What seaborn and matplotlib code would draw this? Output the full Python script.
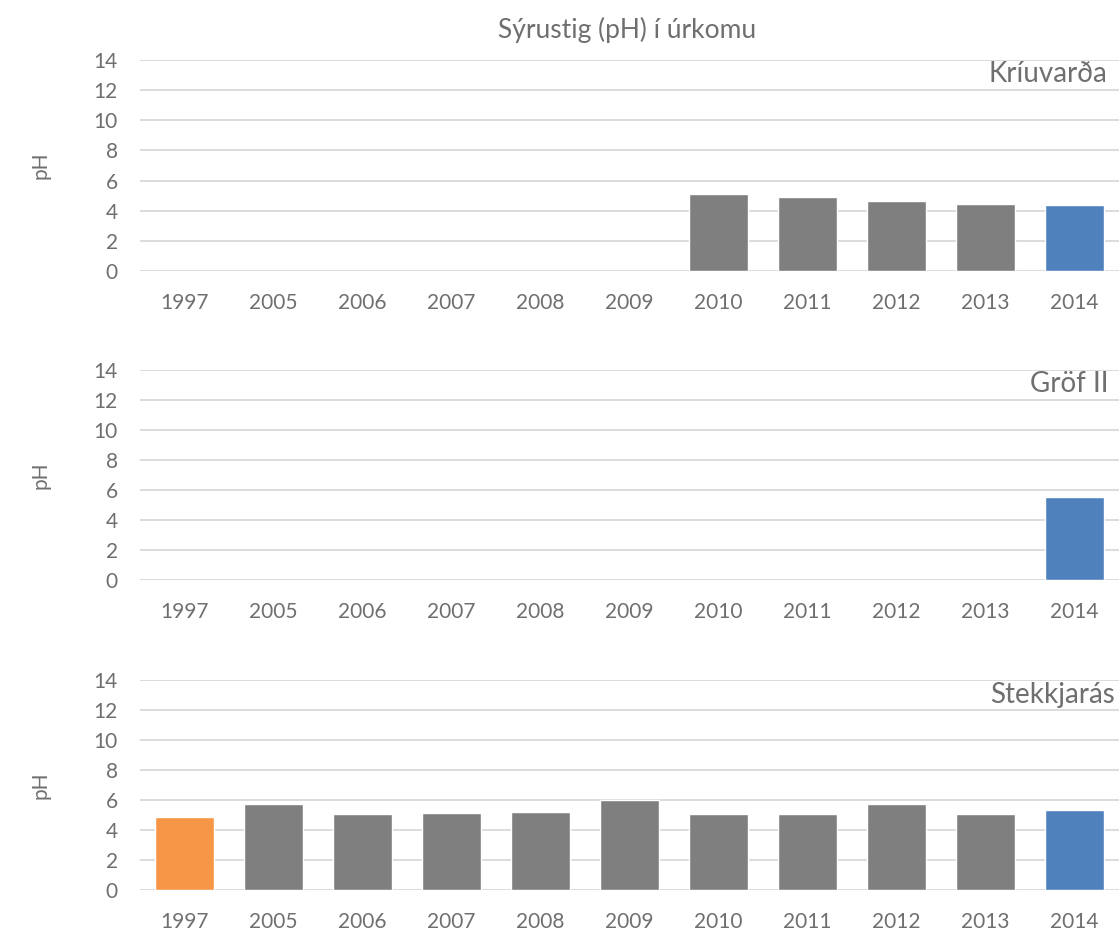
import matplotlib
matplotlib.use("Agg")
import matplotlib.pyplot as plt
import numpy as np
import pandas as pd
import seaborn as sns

sns.set_theme(style="white")
plt.rcParams["font.family"] = ["Lato", "DejaVu Sans"]

# ──────────────────────────────────────────────
# Gögn
# ──────────────────────────────────────────────
YEARS = ["1997", "2005", "2006", "2007", "2008", "2009", "2010", "2011", "2012", "2013", "2014"]
STATIONS = ["Kríuvarða", "Gröf II", "Stekkjarás"]

ph_kriuvarda = [np.nan, np.nan, np.nan, np.nan, np.nan, np.nan, 5.09, 4.93, 4.64, 4.45, 4.38]
ph_grof = [np.nan, np.nan, np.nan, np.nan, np.nan, np.nan, np.nan, np.nan, np.nan, np.nan, 5.55]
ph_stekkjaras = [4.87, 5.73, 5.04, 5.13, 5.22, 6.02, 5.09, 5.04, 5.71, 5.09, 5.35]

GRAY = "#7f7f7f"
ORANGE = "#f79646"
BLUE = "#4f81bd"
TEXT = "#6f6f6f"
GRID = "#d9d9d9"

bar_colors = [ORANGE] + [GRAY] * 9 + [BLUE]

df = pd.DataFrame({
    "year": YEARS * 3,
    "station": np.repeat(STATIONS, len(YEARS)),
    "ph": ph_kriuvarda + ph_grof + ph_stekkjaras,
})

fig = plt.figure(figsize=(11.19, 9.32), dpi=100)
W, H = 1119, 932
# (efri brún, neðri brún) í pixlum
panels = [(60, 271), (370, 580), (680, 890)]
label_y = [0.896, 0.895, 0.890]
label_x = [0.9877, 0.9888, 0.9959]

for i, (station, (top, bot)) in enumerate(zip(STATIONS, panels)):
    ax = fig.add_axes([140 / W, 1 - bot / H, 979 / W, (bot - top) / H])
    sub = df[df["station"] == station]
    sns.barplot(data=sub, x="year", y="ph", hue="year", order=YEARS, hue_order=YEARS,
                palette=bar_colors, width=0.67, legend=False, ax=ax,
                saturation=1, errorbar=None)
    ax.set_ylim(0, 14)
    ax.set_xlim(-0.5, len(YEARS) - 0.5)
    ax.set_yticks(range(0, 15, 2))
    ax.yaxis.grid(True, color=GRID, linewidth=1.3)
    ax.set_axisbelow(True)
    for s in ax.spines.values():
        s.set_visible(False)
    ax.tick_params(axis="y", length=0, pad=16, labelsize=15, labelcolor=TEXT)
    ax.tick_params(axis="x", length=0, pad=16, labelsize=15, labelcolor=TEXT)
    ax.set_xlabel("")
    ax.set_ylabel("")
    ax.text(label_x[i], label_y[i], station, transform=ax.transAxes, ha="right", va="baseline",
            fontsize=20, color=TEXT)
    fig.text(40 / W, 1 - ((top + bot) / 2) / H, "pH", rotation=90, ha="center", va="center",
             fontsize=15, color=TEXT)

fig.text(627 / W, 1 - 30 / H, "Sýrustig (pH) í úrkomu", ha="center", va="center",
         fontsize=19, color=TEXT)

fig.savefig("out.png", dpi=100)
